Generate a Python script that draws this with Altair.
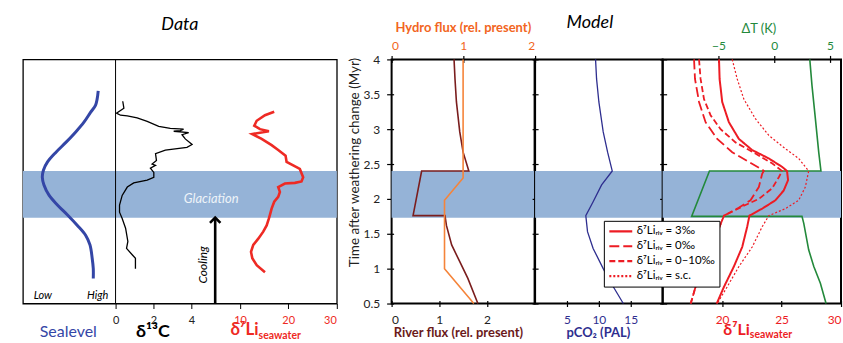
import altair as alt
import pandas as pd

# ------------------------------------------------------------------ data
# glaciation interval (Myr after weathering change)
glaciation_start = [1.73]
glaciation_end = [2.40]

# Data panel: sea level (relative units: 0 = low, 1 = high)
sea_time = [3.55, 3.43, 3.34, 3.24, 3.10, 2.96, 2.81, 2.67, 2.53, 2.41, 2.31,
            2.20, 2.05, 1.91, 1.77, 1.62, 1.48, 1.34, 1.15, 1.00, 0.86]
sea_level = [1.01, 0.99, 0.96, 0.87, 0.75, 0.60, 0.42, 0.24, 0.085, 0.01, -0.01,
             0.02, 0.115, 0.27, 0.45, 0.63, 0.78, 0.86, 0.90, 0.92, 0.92]

# Data panel: delta13C
d13c_time = [3.40, 3.30, 3.23, 3.20, 3.19, 3.16, 3.11, 3.04, 3.01, 3.00,
             2.98, 2.97, 2.95, 2.92, 2.86, 2.78, 2.74, 2.70, 2.65, 2.55,
             2.50, 2.48, 2.44, 2.38, 2.31, 2.27, 2.23, 2.17, 2.05, 1.91,
             1.81, 1.72, 1.58, 1.39, 1.29, 1.20, 1.15, 1.00]
d13c_value = [0.38, 0.44, 0.05, 0.26, 0.62, 1.14, 1.67, 2.28, 2.89, 3.59,
              3.42, 3.07, 3.86, 3.51, 3.68, 4.04, 3.77, 2.63, 2.11, 2.16,
              1.93, 2.11, 1.84, 2.02, 2.02, 1.67, 0.96, 0.62, 0.35, 0.21,
              0.21, 0.35, 0.53, 0.65, 0.58, 0.88, 1.05, 1.05]

# Data panel: delta7Li seawater
lid_time = [3.25, 3.20, 3.12, 3.05, 3.00, 2.97, 2.93, 2.86, 2.77, 2.70,
            2.62, 2.53, 2.48, 2.43, 2.31, 2.25, 2.23, 2.22, 2.17, 2.10,
            2.03, 1.96, 1.86, 1.77, 1.72, 1.62, 1.53, 1.43, 1.34, 1.24,
            1.15, 1.05, 0.95]
lid_value = [17.10, 15.18, 13.46, 12.96, 14.14, 16.00, 12.55, 14.49, 16.56, 17.93,
             19.46, 19.67, 21.04, 22.42, 23.11, 22.77, 21.39, 19.32, 17.93, 18.28,
             17.93, 17.10, 16.56, 16.21, 16.00, 15.53, 14.82, 13.79, 12.75, 12.28,
             12.55, 13.46, 15.18]

# Model: river flux and hydrothermal flux (relative to present)
river_time = [4.0, 3.72, 3.39, 2.96, 2.67, 2.40, 2.40, 1.76, 1.76, 1.62, 1.34, 1.10, 0.86, 0.5]
river_value = [1.31, 1.33, 1.36, 1.43, 1.50, 1.62, 0.63, 0.45, 1.12, 1.15, 1.26, 1.43, 1.60, 1.81]
hydro_time = [4.0, 2.30, 1.98, 1.0, 0.5]
hydro_value = [1.0, 1.0, 0.74, 0.74, 1.15]

# Model: pCO2 (PAL)
pco2_time = [4.0, 3.72, 3.39, 2.96, 2.67, 2.40, 2.20, 1.96, 1.76, 1.53, 1.29, 1.00, 0.74, 0.5]
pco2_value = [9.48, 9.64, 10.0, 10.68, 11.37, 12.1, 10.43, 9.1, 7.95, 8.22, 9.1, 10.68, 12.26, 13.83]

# Model: temperature change (K)
dt_time = [4.0, 3.62, 3.15, 2.67, 2.40, 2.40, 1.75, 1.75, 1.65, 1.27, 1.03, 0.79, 0.5]
dt_value = [3.2, 3.4, 3.7, 4.0, 4.2, -5.8, -7.4, 2.5, 2.66, 3.1, 3.56, 4.15, 4.66]

# Model: delta7Li seawater for four river scenarios
li_labels = ["δ⁷Liᵣᵢᵥ = 3‰", "δ⁷Liᵣᵢᵥ = 0‰", "δ⁷Liᵣᵢᵥ = 0–10‰", "δ⁷Liᵣᵢᵥ = s.c."]
li3_time = [4.0, 3.72, 3.39, 3.10, 2.86, 2.70, 2.58, 2.46, 2.40, 2.27, 2.12, 1.98,
            1.86, 1.76, 1.60, 1.31, 1.03, 0.74, 0.5]
li3_value = [19.74, 19.79, 20.01, 20.57, 21.41, 22.53, 23.93, 25.04, 25.46, 25.55, 25.18, 24.48,
             23.37, 22.30, 22.11, 21.69, 20.99, 20.16, 19.55]
li0_time = [4.0, 3.72, 3.39, 3.10, 2.86, 2.67, 2.53, 2.42, 2.40, 2.36, 2.17, 1.98,
            1.86, 1.76, 1.34, 0.74, 0.5]
li0_value = [17.64, 17.72, 18.06, 18.61, 19.59, 20.85, 22.25, 23.37, 23.51, 23.37, 23.09, 22.39,
             21.27, 20.16, 19.17, 17.77, 17.36]
li010_time = [4.0, 3.72, 3.43, 3.20, 3.00, 2.81, 2.65, 2.51, 2.42, 2.40, 2.31, 2.15,
              2.00, 1.89, 1.76, 1.34, 0.74, 0.5]
li010_value = [18.06, 18.19, 18.48, 19.03, 19.87, 21.13, 22.80, 24.2, 24.9, 25.04, 24.77, 24.2,
               23.09, 21.69, 20.16, 19.17, 17.77, 17.36]
lisc_time = [4.0, 3.72, 3.43, 3.15, 2.91, 2.72, 2.58, 2.43, 2.40, 2.17, 1.98, 1.86,
             1.76, 1.60, 1.31, 1.03, 0.74, 0.5]
lisc_value = [20.85, 21.27, 21.83, 22.80, 23.93, 25.32, 26.44, 27.14, 27.28, 27.0, 26.44, 25.32,
              23.93, 23.37, 22.53, 21.41, 20.43, 19.59]

# tick values
time_ticks = [0.5, 1, 1.5, 2, 2.5, 3, 3.5, 4]
d13c_ticks = [0, 2, 4]
lid_ticks = [10, 20, 30]
river_ticks = [0, 1, 2]
hydro_ticks = [0, 1, 2]
pco2_ticks = [5, 10, 15]
lim_ticks = [20, 25, 30]
dt_ticks = [-5, 0, 5]
sea_label_text = ["Low", "High"]
sea_label_pos = [0, 1]

# ------------------------------------------------------------------ style
FONT = "Lato"
H = 245
BAND = "#95b3d7"
SEA = "#3446a6"
LIRED = "#ee2a24"
RIVER = "#7a1d1d"
HYDRO = "#f5843a"
HYDRO_TXT = "#f26522"
NAVY = "#2e2e8f"
MRED = "#ed1c24"
GREEN = "#23893b"

TS = alt.Scale(domain=[0.5, 4.0], nice=False, zero=False)


def ty_none(field):
    return alt.Y(f"{field}:Q", scale=TS, axis=None)


def frame(t, v):
    return pd.DataFrame({"t": t, "v": v, "i": list(range(len(t)))})


def band_layer(yaxis):
    return alt.Chart(pd.DataFrame({"t0": glaciation_start, "t1": glaciation_end})).mark_rect(
        color=BAND).encode(y=alt.Y("t0:Q", scale=TS, axis=yaxis), y2="t1:Q")


def left_ticks(offset, size):
    return alt.Axis(orient="left", values=time_ticks, labels=False, offset=offset, tickSize=size,
                    domain=False, tickColor="black", tickWidth=1.2, title=None)


# ------------------------------------------------------------------ data panel
CS = alt.Scale(domain=[-4.89, 11.68], nice=False, zero=False)
LS = alt.Scale(domain=[-35.1, 30.1], nice=False, zero=False)
SS = alt.Scale(domain=[-0.364, 5.364], nice=False, zero=False)

zero_rule = alt.Chart(pd.DataFrame({"c": [0]})).mark_rule(color="black", strokeWidth=1).encode(
    x=alt.X("c:Q", scale=CS, axis=None))

sea = alt.Chart(frame(sea_time, sea_level)).mark_line(
    color=SEA, strokeWidth=3, interpolate="catmull-rom").encode(
    x=alt.X("v:Q", scale=SS, axis=alt.Axis(
        orient="bottom", labels=False, ticks=False, domain=False, title="Sealevel",
        titleColor=SEA, titleFontSize=16, titleFontWeight="normal", titleX=45, titleY=33,
        titleBaseline="alphabetic", titleAlign="center")),
    y=ty_none("t"), order="i:Q")

d13c = alt.Chart(frame(d13c_time, d13c_value)).mark_line(color="black", strokeWidth=1.3).encode(
    x=alt.X("v:Q", scale=CS, axis=alt.Axis(
        orient="bottom", values=d13c_ticks, domain=False, tickSize=5, tickColor="black",
        labelPadding=6, labelFontSize=11, labelColor="#222", title="δ¹³C",
        titleFontSize=18, titleFontWeight="bold", titleColor="black", titleX=130, titleY=33,
        titleBaseline="alphabetic", titleAlign="center")),
    y=ty_none("t"), order="i:Q")

lid = alt.Chart(frame(lid_time, lid_value)).mark_line(color=LIRED, strokeWidth=2.6).encode(
    x=alt.X("v:Q", scale=LS, axis=alt.Axis(
        orient="bottom", values=lid_ticks, domain=False, tickSize=5, tickColor="black",
        labelPadding=6, labelFontSize=11, labelColor=LIRED, title="δ⁷Li",
        titleFontSize=17, titleFontWeight="bold", titleColor=LIRED, titleX=236, titleY=31,
        titleBaseline="alphabetic", titleAlign="right")),
    y=ty_none("t"), order="i:Q")

glac = alt.Chart(pd.DataFrame({"x": [4.0], "t": [2.0], "s": ["Glaciation"]})).mark_text(
    font=FONT, fontSize=13, fontStyle="italic", color="#eef3f9").encode(
    x=alt.X("x:Q", scale=LS, axis=alt.Axis(
        orient="bottom", labels=False, ticks=False, domain=False, title="seawater",
        titleFontSize=10.5, titleFontWeight="bold", titleColor=LIRED, titleX=236, titleY=35,
        titleBaseline="alphabetic", titleAlign="left")),
    y=ty_none("t"), text="s:N")

arrow = alt.Chart(pd.DataFrame({"c": [5.26], "t0": [0.5], "t1": [1.72]})).mark_rule(
    color="black", strokeWidth=2.6).encode(
    x=alt.X("c:Q", scale=CS, axis=None), y=ty_none("t0"), y2="t1:Q")

head = alt.Chart(pd.DataFrame({"c": [5.26], "t": [1.693]})).mark_point(
    shape="M-1,0.5L0,-0.5L1,0.5", size=110, filled=False, color="black", strokeWidth=2.6,
    opacity=1).encode(x=alt.X("c:Q", scale=CS, axis=None), y=ty_none("t"))

cooling = alt.Chart(pd.DataFrame({"c": [4.6], "t": [1.055], "s": ["Cooling"]})).mark_text(
    font=FONT, fontSize=12, fontStyle="italic", angle=270, color="black").encode(
    x=alt.X("c:Q", scale=CS, axis=None), y=ty_none("t"), text="s:N")

lowhigh = alt.Chart(pd.DataFrame({"v": sea_label_pos, "t": [0.614, 0.614], "s": sea_label_text})).mark_text(
    font=FONT, fontSize=11, fontStyle="italic", color="black").encode(
    x=alt.X("v:Q", scale=SS, axis=None), y=ty_none("t"), text="s:N")

data_panel = alt.layer(
    band_layer(None), zero_rule, sea, d13c, lid, glac, arrow, head, cooling, lowhigh
).resolve_scale(x="independent").resolve_axis(x="independent").properties(
    width=315, height=H,
    view=alt.ViewBackground(stroke="black", strokeWidth=1.3),
    title=alt.TitleParams("Data", fontSize=18, fontStyle="italic", fontWeight="normal",
                          font=FONT, anchor="middle", baseline="alphabetic", offset=11,
                          color="black"))

spacer = alt.Chart(pd.DataFrame({"t": [1.0]})).mark_point(opacity=0).encode(
    y=ty_none("t")).properties(width=54.5, height=H, view=alt.ViewBackground(stroke="transparent"))

# ------------------------------------------------------------------ model panel 1
m1_yaxis = alt.Axis(
    orient="left", values=time_ticks, format="~g", offset=-2, tickSize=7, tickColor="black",
    tickWidth=1.2, labelPadding=7, labelOverlap=False, labelFlush=False, domain=False,
    labelFontSize=12, labelColor="#222",
    title="Time after weathering change (Myr)", titleFontSize=13.5, titleFontWeight="normal",
    titleColor="#222", titleAngle=270, titleX=-39.5, titleY=103, titleAlign="center",
    titleBaseline="middle")

river = alt.Chart(frame(river_time, river_value)).mark_line(color=RIVER, strokeWidth=1.6).encode(
    x=alt.X("v:Q", scale=alt.Scale(domain=[0, 3], nice=False, zero=False), axis=alt.Axis(
        orient="bottom", values=river_ticks, offset=-3, tickSize=6, tickColor="black", tickWidth=1.2,
        labelPadding=8, domain=False, labelColor="#222", labelFontSize=12,
        title="River flux (rel. present)", titleColor="#6b1a1a", titleFontWeight="bold",
        titleFontSize=13, titleX=66.5, titleY=36, titleBaseline="alphabetic", titleAlign="center")),
    y=ty_none("t"), order="i:Q")

hydro = alt.Chart(frame(hydro_time, hydro_value)).mark_line(color=HYDRO, strokeWidth=1.6).encode(
    x=alt.X("v:Q", scale=alt.Scale(domain=[0, 2], nice=False, zero=False), axis=alt.Axis(
        orient="top", values=hydro_ticks, format="~g", offset=-3, tickSize=7, tickColor="black",
        tickWidth=1.2, labelPadding=6, labelBaseline="alphabetic", domain=False,
        labelColor=HYDRO_TXT, labelFontSize=12, title="Hydro flux (rel. present)",
        titleColor=HYDRO_TXT, titleFontWeight="bold", titleFontSize=13, titleX=71.5,
        titleY=-30.5, titleBaseline="alphabetic", titleAlign="center")),
    y=ty_none("t"), order="i:Q")

m1 = alt.layer(band_layer(m1_yaxis), river, hydro).resolve_scale(x="independent").resolve_axis(
    x="independent", y="independent").properties(
    width=143.5, height=H, view=alt.ViewBackground(stroke="black", strokeWidth=2))

# ------------------------------------------------------------------ model panel 2
pco2 = alt.Chart(frame(pco2_time, pco2_value)).mark_line(color=NAVY, strokeWidth=1.3).encode(
    x=alt.X("v:Q", scale=alt.Scale(domain=[0, 20], nice=False, zero=False), axis=alt.Axis(
        orient="bottom", values=pco2_ticks, offset=-3, tickSize=6, tickColor="black", tickWidth=1.2,
        labelPadding=8, domain=False, labelColor=NAVY, labelFontSize=12,
        title="pCO₂ (PAL)", titleColor=NAVY, titleFontWeight="bold", titleFontSize=13,
        titleX=63, titleY=36, titleBaseline="alphabetic", titleAlign="center")),
    y=ty_none("t"), order="i:Q")

m2 = alt.layer(band_layer(left_ticks(-3, 6)), pco2).resolve_axis(y="independent").properties(
    width=128, height=H, view=alt.ViewBackground(stroke="black", strokeWidth=2),
    title=alt.TitleParams("Model", fontSize=18, fontStyle="italic", fontWeight="normal",
                          font=FONT, anchor="middle", baseline="alphabetic", offset=11,
                          dx=-9, color="black"))

# ------------------------------------------------------------------ model panel 3
dt = alt.Chart(frame(dt_time, dt_value)).mark_line(color=GREEN, strokeWidth=1.6).encode(
    x=alt.X("v:Q", scale=alt.Scale(domain=[-10, 6], nice=False, zero=False), axis=alt.Axis(
        orient="top", values=dt_ticks, offset=-3, tickSize=7, tickColor="black", tickWidth=1.2,
        labelPadding=6, labelBaseline="alphabetic", domain=False, labelColor=GREEN,
        labelFontSize=12, title="ΔT (K)", titleColor=GREEN, titleFontWeight="normal",
        titleFontSize=13, titleX=96, titleY=-29.5, titleBaseline="alphabetic", titleAlign="center")),
    y=ty_none("t"), order="i:Q")

LIM = alt.Scale(domain=[15, 30], nice=False, zero=False)
DASH = alt.Scale(domain=li_labels, range=[[1, 0], [10, 4], [6, 3], [2, 2]])

li_solid = frame(li3_time, li3_value).assign(s=li_labels[0])
li_dashed = pd.concat([
    frame(li0_time, li0_value).assign(s=li_labels[1]),
    frame(li010_time, li010_value).assign(s=li_labels[2]),
])
li_dotted = frame(lisc_time, lisc_value).assign(s=li_labels[3])

lim_dotted = alt.Chart(li_dotted).mark_line(color=MRED, strokeWidth=1.2).encode(
    x=alt.X("v:Q", scale=LIM, axis=None), y=ty_none("t"),
    strokeDash=alt.StrokeDash("s:N", scale=DASH), order="i:Q")

lim_dashed = alt.Chart(li_dashed).mark_line(color=MRED, strokeWidth=1.8).encode(
    x=alt.X("v:Q", scale=LIM, axis=alt.Axis(
        orient="bottom", labels=False, ticks=False, domain=False, offset=-3,
        title="seawater", titleColor=MRED, titleFontWeight="bold", titleFontSize=10.5,
        titleX=87, titleY=37, titleBaseline="alphabetic", titleAlign="left")),
    y=ty_none("t"), strokeDash=alt.StrokeDash("s:N", scale=DASH), detail="s:N", order="i:Q")

lim_solid = alt.Chart(li_solid).mark_line(color=MRED, strokeWidth=2).encode(
    x=alt.X("v:Q", scale=LIM, axis=alt.Axis(
        orient="bottom", values=lim_ticks, offset=-3, tickSize=6, tickColor="black", tickWidth=1.2,
        labelPadding=8, domain=False, labelColor=MRED, labelFontSize=12,
        title="δ⁷Li", titleColor=MRED, titleFontWeight="bold", titleFontSize=16,
        titleX=87, titleY=34, titleBaseline="alphabetic", titleAlign="right")),
    y=ty_none("t"),
    strokeDash=alt.StrokeDash("s:N", scale=DASH, legend=alt.Legend(
        orient="none", legendX=583, legendY=162, title=None, fillColor="white",
        strokeColor="black", padding=4, symbolType="stroke", symbolSize=529,
        symbolStrokeWidth=2.2, symbolStrokeColor=MRED, labelFont=FONT, labelFontSize=11.5,
        labelColor="black", clipHeight=13, rowPadding=2, labelOffset=3)),
    order="i:Q")

m3 = alt.layer(band_layer(left_ticks(-4, 7)), dt, lim_dotted, lim_dashed, lim_solid).resolve_scale(
    x="independent").resolve_axis(x="independent", y="independent").properties(
    width=179, height=H, view=alt.ViewBackground(stroke="black", strokeWidth=2))

# ------------------------------------------------------------------ assemble
chart = alt.HConcatChart(
    hconcat=[data_panel, spacer, m1, m2, m3], spacing=0, bounds="flush",
    padding={"left": 22, "top": 12, "right": 0, "bottom": 0},
).configure(font=FONT).configure_axis(grid=False, labelFont=FONT, titleFont=FONT).configure_view(
    stroke="black")

chart.save("out.html", embed_options={"renderer": "svg", "actions": False})
